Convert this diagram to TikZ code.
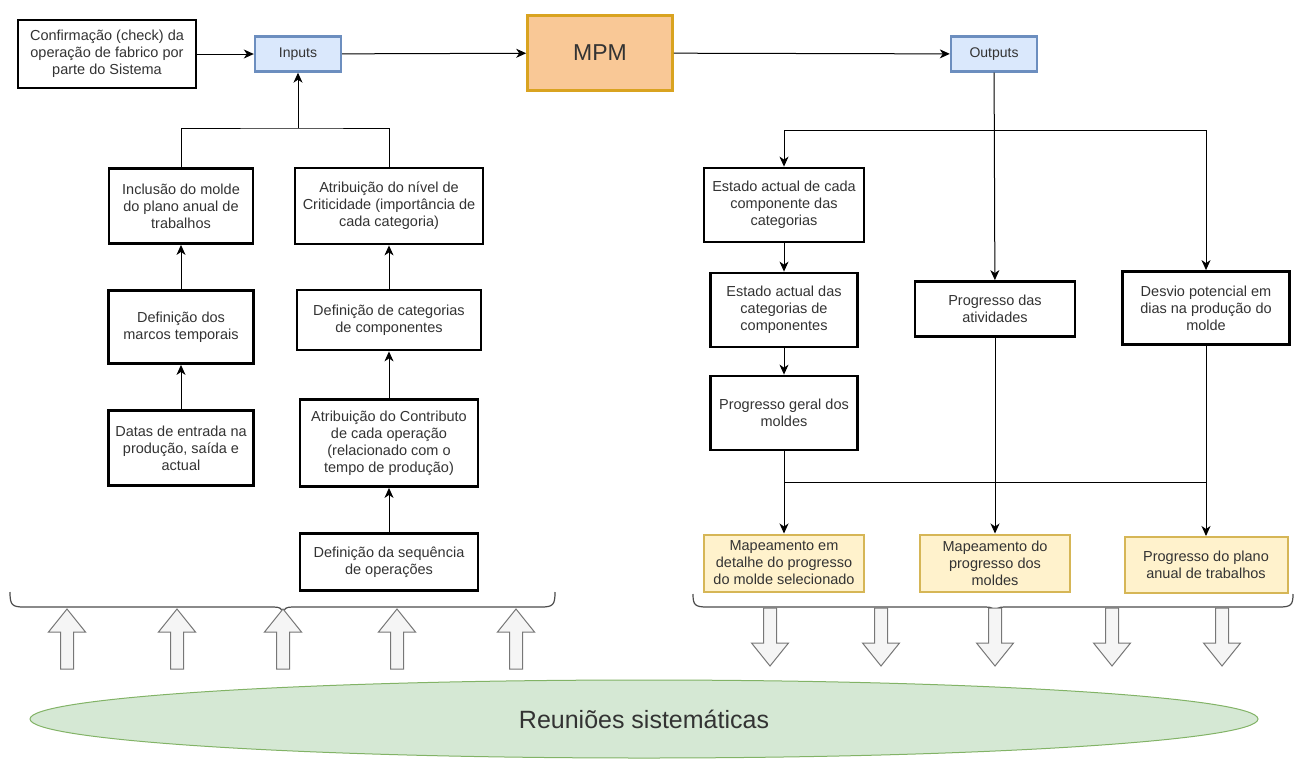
\documentclass[tikz,border=0pt]{standalone}
\usepackage{fontspec}
\setmainfont{Liberation Sans}
\usepackage{tikz}
\usetikzlibrary{positioning, arrows.meta, shapes.geometric}

\definecolor{iofill}{HTML}{DAE8FC}
\definecolor{ioborder}{HTML}{6C8EBF}
\definecolor{mpmfill}{HTML}{F9C896}
\definecolor{mpmborder}{HTML}{D9A320}
\definecolor{mapfill}{HTML}{FFF2CC}
\definecolor{mapborder}{HTML}{D6B656}
\definecolor{reunfill}{HTML}{D5E8D4}
\definecolor{reunborder}{HTML}{82B366}
\definecolor{blockfill}{HTML}{F5F5F5}
\definecolor{blockborder}{HTML}{777777}

\begin{document}
\begin{tikzpicture}[x=1pt, y=-1pt,
    box/.style={draw, line width=2.8pt, fill=white, align=center, text=black!80,
        font=\fontsize{14.5}{17}\selectfont, inner sep=1pt},
    iobox/.style={draw=ioborder, fill=iofill, line width=2.4pt, text=black!80,
        font=\fontsize{14}{17}\selectfont, minimum width=86pt, minimum height=35pt},
    mapbox/.style={box, draw=mapborder, fill=mapfill, line width=2pt},
    arr/.style={-{Stealth[length=10pt, width=9pt, inset=3pt]}, line width=1pt},
    conn/.style={line width=1pt},
    blockarrow/.style={draw=blockborder, fill=blockfill, line width=1pt},
    bracket/.style={draw=black!70, line width=1.2pt}]
    \useasboundingbox (0,0) rectangle (1295,758);

    % top row
    \node[box, minimum width=178pt, minimum height=68pt] (conf) at (107,54) {Confirmação (check) da\\operação de fabrico por\\parte do Sistema};
    \node[iobox] (inputs) at (298,54) {Inputs};
    \node[draw=mpmborder, fill=mpmfill, line width=2.6pt, text=black!80, font=\fontsize{23}{26}\selectfont,
        minimum width=145pt, minimum height=75pt] (mpm) at (600,53) {MPM};
    \node[iobox] (outputs) at (994,54) {Outputs};

    \draw[arr] (conf) -- (inputs);
    \draw[arr] (inputs) -- (mpm);
    \draw[arr] (mpm) -- (outputs);

    % inputs side
    \node[box, minimum width=144pt, minimum height=75pt] (incl) at (181,206) {Inclusão do molde\\do plano anual de\\trabalhos};
    \node[box, minimum width=188pt, minimum height=76pt] (crit) at (389,206) {Atribuição do nível de\\Criticidade (importância de\\cada categoria)};
    \node[box, minimum width=145pt, minimum height=73pt] (marcos) at (181,327) {Definição dos\\marcos temporais};
    \node[box, minimum width=184pt, minimum height=60pt] (categ) at (389,320) {Definição de categorias\\de componentes};
    \node[box, minimum width=145pt, minimum height=75pt] (datas) at (181,448) {Datas de entrada na\\produção, saída e\\actual};
    \node[box, minimum width=178pt, minimum height=87pt] (contr) at (389,443) {Atribuição do Contributo\\de cada operação\\(relacionado com o\\tempo de produção)};
    \node[box, minimum width=178pt, minimum height=57pt] (seq) at (389,562) {Definição da sequência\\de operações};

    \coordinate (jin) at (298,128);
    \draw[conn] (incl.north) |- (jin) -| (crit.north);
    \draw[arr] (jin) -- (inputs);
    \draw[arr] (marcos) -- (incl);
    \draw[arr] (datas) -- (marcos);
    \draw[arr] (categ) -- (crit);
    \draw[arr] (contr) -- (categ);
    \draw[arr] (seq) -- (contr);

    % outputs side
    \node[box, minimum width=160pt, minimum height=74pt] (cada) at (784,205) {Estado actual de cada\\componente das\\categorias};
    \node[box, minimum width=147pt, minimum height=74pt] (das) at (784,310) {Estado actual das\\categorias de\\componentes};
    \node[box, minimum width=147pt, minimum height=74pt] (geral) at (784,413) {Progresso geral dos\\moldes};
    \node[box, minimum width=160pt, minimum height=55pt] (ativ) at (995,309) {Progresso das\\atividades};
    \node[box, minimum width=167pt, minimum height=73pt] (desvio) at (1206,308) {Desvio potencial em\\dias na produção do\\molde};

    \node[mapbox, minimum width=160pt, minimum height=57pt] (mapa) at (784,563) {Mapeamento em\\detalhe do progresso\\do molde selecionado};
    \node[mapbox, minimum width=150pt, minimum height=57pt] (mapb) at (995,563) {Mapeamento do\\progresso dos\\moldes};
    \node[mapbox, minimum width=163pt, minimum height=56pt] (plano) at (1206,565) {Progresso do plano\\anual de trabalhos};

    \coordinate (jout) at (995,130);
    \draw[arr] (outputs) -- (ativ);
    \draw[arr] (jout) -| (cada);
    \draw[arr] (jout) -| (desvio);
    \draw[arr] (cada) -- (das);
    \draw[arr] (das) -- (geral);

    \coordinate (jmap) at (784,482);
    \draw[conn] (geral) -- (jmap) -- (jmap -| desvio);
    \draw[arr] (jmap) -- (mapa);
    \draw[arr] (ativ) -- (mapb);
    \draw[arr] (desvio) -- (plano);

    % brackets
    \draw[bracket] (10,592) .. controls (10,605) and (12,607) .. (24,607) -- (274,607)
        .. controls (280,607) and (282,609) .. (283,612) .. controls (284,609) and (286,607) .. (292,607)
        -- (541,607) .. controls (553,607) and (555,605) .. (555,592);
    \draw[bracket] (693,594) .. controls (693,605) and (695,607) .. (707,607) -- (986,607)
        .. controls (992,607) and (994,609) .. (995,612) .. controls (996,609) and (998,607) .. (1004,607)
        -- (1279,607) .. controls (1291,607) and (1293,605) .. (1293,594);

    % block arrows
    \foreach \x in {67,177,283,397,516}
        \draw[blockarrow] (\x,609) -- (\x+18.5,632) -- (\x+6.5,632) -- (\x+6.5,669)
            -- (\x-6.5,669) -- (\x-6.5,632) -- (\x-18.5,632) -- cycle;
    \foreach \x in {770,881,995,1112,1222}
        \draw[blockarrow] (\x,666) -- (\x+18.5,643) -- (\x+6.5,643) -- (\x+6.5,608)
            -- (\x-6.5,608) -- (\x-6.5,643) -- (\x-18.5,643) -- cycle;

    \node[ellipse, draw=reunborder, fill=reunfill, line width=1pt, text=black!80,
        font=\fontsize{25}{28}\selectfont, minimum width=1228pt, minimum height=78pt] (reun) at (644,719) {Reuniões sistemáticas};
\end{tikzpicture}
\end{document}
